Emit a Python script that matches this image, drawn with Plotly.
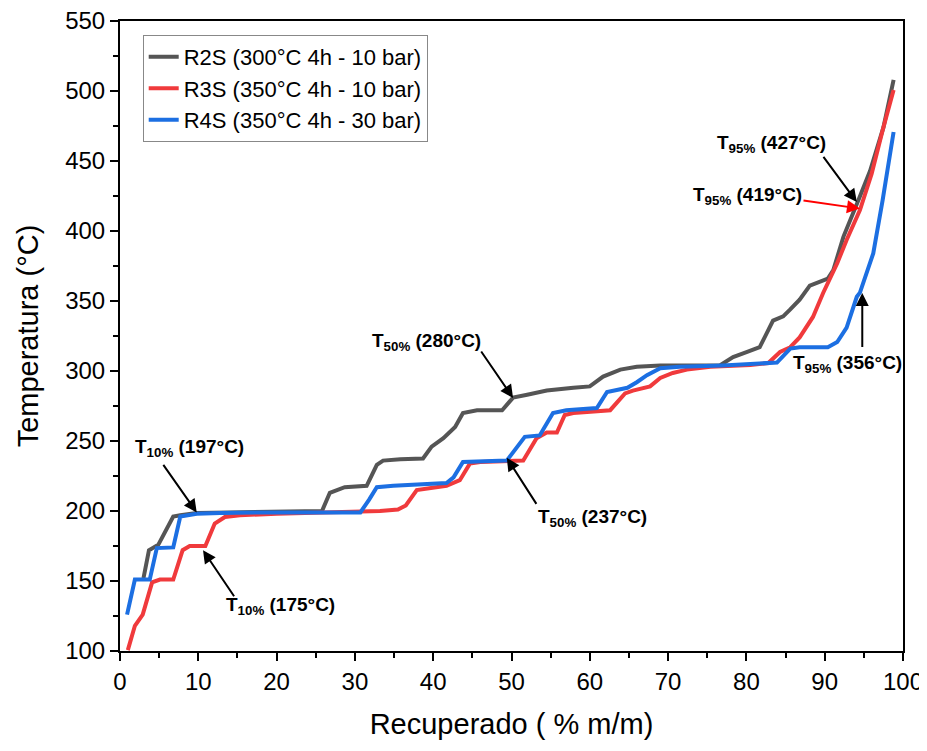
import plotly.graph_objs as go

# R2S (300°C 4h - 10 bar)
r2s_x = [3.0, 3.7, 4.9, 6.8, 7.7, 9.8, 14, 20, 25.8, 26.8, 28.7, 31.5, 32.8, 33.6, 35.8, 38.7,
         39.8, 41.3, 42.8, 43.8, 45.6, 48.8, 50.2, 52, 54.5, 57.9, 60, 61.7, 63.9, 66, 69, 76.6,
         78.3, 80.1, 81.7, 83.4, 84.7, 85.6, 86.8, 88.1, 90.4, 91.1, 92.4, 94.3, 95.8, 97.5, 98.8]
r2s_t = [152, 172, 176, 196, 197, 198.5, 199, 199.5, 200, 213, 217, 218, 233, 236, 237, 237.5,
         246, 252, 260, 270, 272, 272, 281, 283, 286, 288, 289, 296, 301, 303, 304, 304,
         310, 313.6, 317, 336, 339, 344, 351, 361, 366, 372, 396, 422, 443, 474, 508]

# R3S (350°C 4h - 10 bar)
r3s_x = [1.0, 1.9, 2.9, 4.1, 5.1, 6.8, 8.0, 8.9, 10.9, 12.1, 13.4, 15.3, 20, 25, 30, 33.2, 35.5,
         36.5, 37.9, 39, 41.7, 43.4, 44.7, 46, 49.8, 51.5, 53.2, 54.5, 55.8, 56.8, 57.9, 62.6,
         64.5, 65.5, 67.7, 69, 70.6, 72.4, 75.4, 80.5, 82.8, 84.3, 85.6, 86.8, 88.5, 89.8, 91.6,
         92.8, 94.5, 96, 97.4, 98.8]
r3s_t = [100.6, 118, 126, 149, 151, 151, 172, 175, 175, 191, 195.7, 197, 198, 198.5, 199, 200, 201,
         204, 215, 216, 218, 222, 234, 235, 236, 236, 252, 256, 256, 268.6, 270, 272,
         284, 286, 289, 295, 298.6, 301, 303, 304.3, 305.7, 313.6, 317, 324, 338.6, 355.7, 377,
         393.6, 415, 441, 472, 500.7]

# R4S (350°C 4h - 30 bar)
r4s_x = [0.9, 1.9, 3.8, 4.7, 6.8, 7.7, 9.8, 12.8, 20, 25, 30.7, 31.8, 32.8, 34.9, 36.6, 41.7, 42.6,
         43.8, 49.4, 50.2, 51.7, 53.6, 55.3, 57, 60.9, 62.2, 64.8, 66, 67.3, 69, 71.5, 77, 82.6,
         83.9, 85.6, 86.8, 90.4, 91.6, 92.8, 94.1, 94.5, 96.2, 97.4, 98.3, 98.8]
r4s_t = [126, 151, 151, 173.5, 174, 196, 198, 198.6, 199, 199, 199, 208, 217, 218, 218.6, 220, 224,
         235, 236, 242, 253, 254, 270, 272, 273.6, 285, 288, 292, 297, 302, 303, 304, 305.7,
         306, 316, 317, 317, 320.7, 331, 353, 356, 384, 422, 455.7, 470.7]

nombres = ["R2S (300°C 4h - 10 bar)", "R3S (350°C 4h - 10 bar)", "R4S (350°C 4h - 30 bar)"]
colores = ["#555555", "#F03A3C", "#1C6FE2"]

# etiquetas: texto, posicion del texto, punta de flecha, cola de flecha, color de flecha
etiquetas = [
    ("T<sub>10%</sub> (197°C)", 8.9, 245, 9.8, 199, 5.4, 234, "black"),
    ("T<sub>10%</sub> (175°C)", 20.5, 132, 10.6, 172, 14.7, 138, "black"),
    ("T<sub>50%</sub> (280°C)", 39.2, 321, 50.2, 280.7, 46.0, 315, "black"),
    ("T<sub>50%</sub> (237°C)", 60.3, 195, 49.4, 238, 53.3, 204, "black"),
    ("T<sub>95%</sub> (427°C)", 83.2, 462, 94.1, 420.7, 89.7, 454, "black"),
    ("T<sub>95%</sub> (419°C)", 80.2, 425, 94.5, 416, 87.1, 422, "red"),
    ("T<sub>95%</sub> (356°C)", 92.9, 305, 94.8, 355.7, 94.8, 316, "black"),
]

fig = go.Figure()
for xs, ts, nombre, color in zip([r2s_x, r3s_x, r4s_x], [r2s_t, r3s_t, r4s_t], nombres, colores):
    fig.add_trace(go.Scatter(x=xs, y=ts, mode="lines", name=nombre,
                             line=dict(color=color, width=4)))

for texto, tx, ty, hx, hy, cx, cy, col in etiquetas:
    fig.add_annotation(x=tx, y=ty, xref="x", yref="y", text="<b>" + texto + "</b>",
                       showarrow=False, font=dict(family="Liberation Sans", size=19, color="black"))
    fig.add_annotation(x=hx, y=hy, ax=cx, ay=cy, xref="x", yref="y", axref="x", ayref="y",
                       text="", showarrow=True, arrowhead=2, arrowsize=1.3, arrowwidth=2,
                       arrowcolor=col)

eje = dict(showline=True, linecolor="black", linewidth=2, mirror=True, showgrid=False,
           zeroline=False, ticks="outside", ticklen=8, tickwidth=2, tickcolor="black",
           automargin=False, ticklabeloverflow="allow",
           tickfont=dict(family="Liberation Sans", size=24, color="black"),
           minor=dict(ticks="outside", ticklen=5, tickwidth=2, tickcolor="black"))

# la pagina tiene 8 px de margen en el body, se compensa aqui
fig.update_layout(
    width=919, height=743,
    margin=dict(l=112, r=24, t=13, b=100),
    plot_bgcolor="white", paper_bgcolor="white",
    font=dict(family="Liberation Sans", color="black"),
    legend=dict(x=0.029, y=0.978, xanchor="left", yanchor="top",
                bordercolor="#888888", borderwidth=1, bgcolor="white",
                font=dict(family="Liberation Sans", size=22, color="black"),
                tracegroupgap=0),
    xaxis=dict(eje, range=[0, 100], dtick=10, minor=dict(eje["minor"], dtick=5),
               title=dict(text="Recuperado ( % m/m)", font=dict(size=29), standoff=20)),
    yaxis=dict(eje, range=[100, 550], dtick=50, minor=dict(eje["minor"], dtick=25),
               title=dict(text="Temperatura (°C)", font=dict(size=29), standoff=18)),
)

fig.write_html("out.html")
